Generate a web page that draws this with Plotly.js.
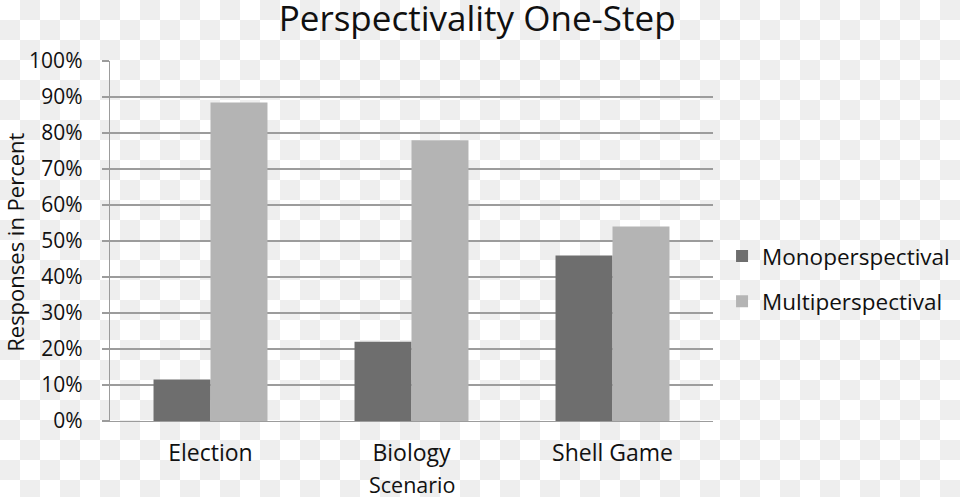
<!DOCTYPE html>
<html>
<head>
<meta charset="utf-8">
<script src="https://cdn.plot.ly/plotly-3.0.1.min.js"></script>
<style>
    html, body {
        margin: 0;
        padding: 0;
        /* fake-transparency checkerboard behind the chart */
        background-color: #fff;
        background-image: conic-gradient(#eeeeee 0 25%, #fff 0 50%, #eeeeee 0 75%, #fff 0);
        background-size: 40px 40px;
    }
    #chart { width: 960px; height: 497px; }
</style>
</head>
<body>
<div id="chart"></div>
<script>
// chart data
const scenarios = ['Election', 'Biology', 'Shell Game'];
const monoPercent = [11.5, 22, 46];
const multiPercent = [88.5, 78, 54];
const seriesNames = ['Monoperspectival', 'Multiperspectival'];
const xTitle = 'Scenario';
const yTitle = 'Responses in Percent';

const fontFamily = '"Open Sans", "Noto Sans", sans-serif';
const gridGray = '#9c9c9c';

/**
 * Builds one bar trace for a series.
 */
function makeTrace(name, values, color, group) {
    return {
        x: scenarios,
        y: values,
        type: 'bar',
        name: name,
        legendgroup: group,
        marker: { color: color, line: { width: 0 } },
        hoverinfo: 'x+y+name'
    };
}

const traces = [
    makeTrace(seriesNames[0], monoPercent, '#6e6e6e', 'mono'),
    makeTrace(seriesNames[1], multiPercent, '#b4b4b4', 'multi')
];

const layout = {
    width: 960,
    height: 497,
    // keep the plot area fixed, the legend must not push it
    margin: { l: 110, r: 247, t: 61, b: 76, autoexpand: false },
    paper_bgcolor: 'rgba(0,0,0,0)',
    plot_bgcolor: 'rgba(0,0,0,0)',
    font: { family: fontFamily, color: '#111', size: 21 },
    title: {
        text: 'Perspectivality One-Step',
        font: { size: 35, color: '#111' },
        x: 0.497,
        xanchor: 'center',
        yref: 'container',
        y: 0.986,
        yanchor: 'top'
    },
    barmode: 'group',
    bargap: 0.433,
    bargroupgap: 0,
    xaxis: {
        showline: true,
        linecolor: gridGray,
        linewidth: 1.3,
        ticks: '',
        tickfont: { size: 23 },
        ticklabelstandoff: 11,
        fixedrange: true
    },
    yaxis: {
        range: [0, 100],
        dtick: 10,
        ticksuffix: '%',
        showgrid: true,
        gridcolor: gridGray,
        gridwidth: 1.3,
        showline: true,
        linecolor: gridGray,
        linewidth: 1.3,
        ticks: 'outside',
        ticklen: 7,
        tickcolor: gridGray,
        tickwidth: 1.3,
        ticklabelstandoff: 15,
        tickfont: { size: 21 },
        zeroline: false,
        fixedrange: true
    },
    // axis titles as annotations: the built-in ones are clamped inside the margins
    annotations: [
        {
            text: xTitle,
            xref: 'paper', yref: 'paper',
            x: 0.5, y: -0.177,
            xanchor: 'center', yanchor: 'middle',
            showarrow: false,
            font: { size: 21.5 }
        },
        {
            text: yTitle,
            xref: 'paper', yref: 'paper',
            x: -0.158, y: 0.497,
            xanchor: 'center', yanchor: 'middle',
            textangle: -90,
            showarrow: false,
            font: { size: 22 }
        }
    ],
    legend: {
        x: 1.015,
        xanchor: 'left',
        y: 0.395,
        yanchor: 'middle',
        traceorder: 'grouped',
        tracegroupgap: 13,
        font: { size: 22.5 },
        bgcolor: 'rgba(0,0,0,0)'
    },
    showlegend: true
};

Plotly.newPlot('chart', traces, layout, { displayModeBar: false, staticPlot: true });
</script>
</body>
</html>
